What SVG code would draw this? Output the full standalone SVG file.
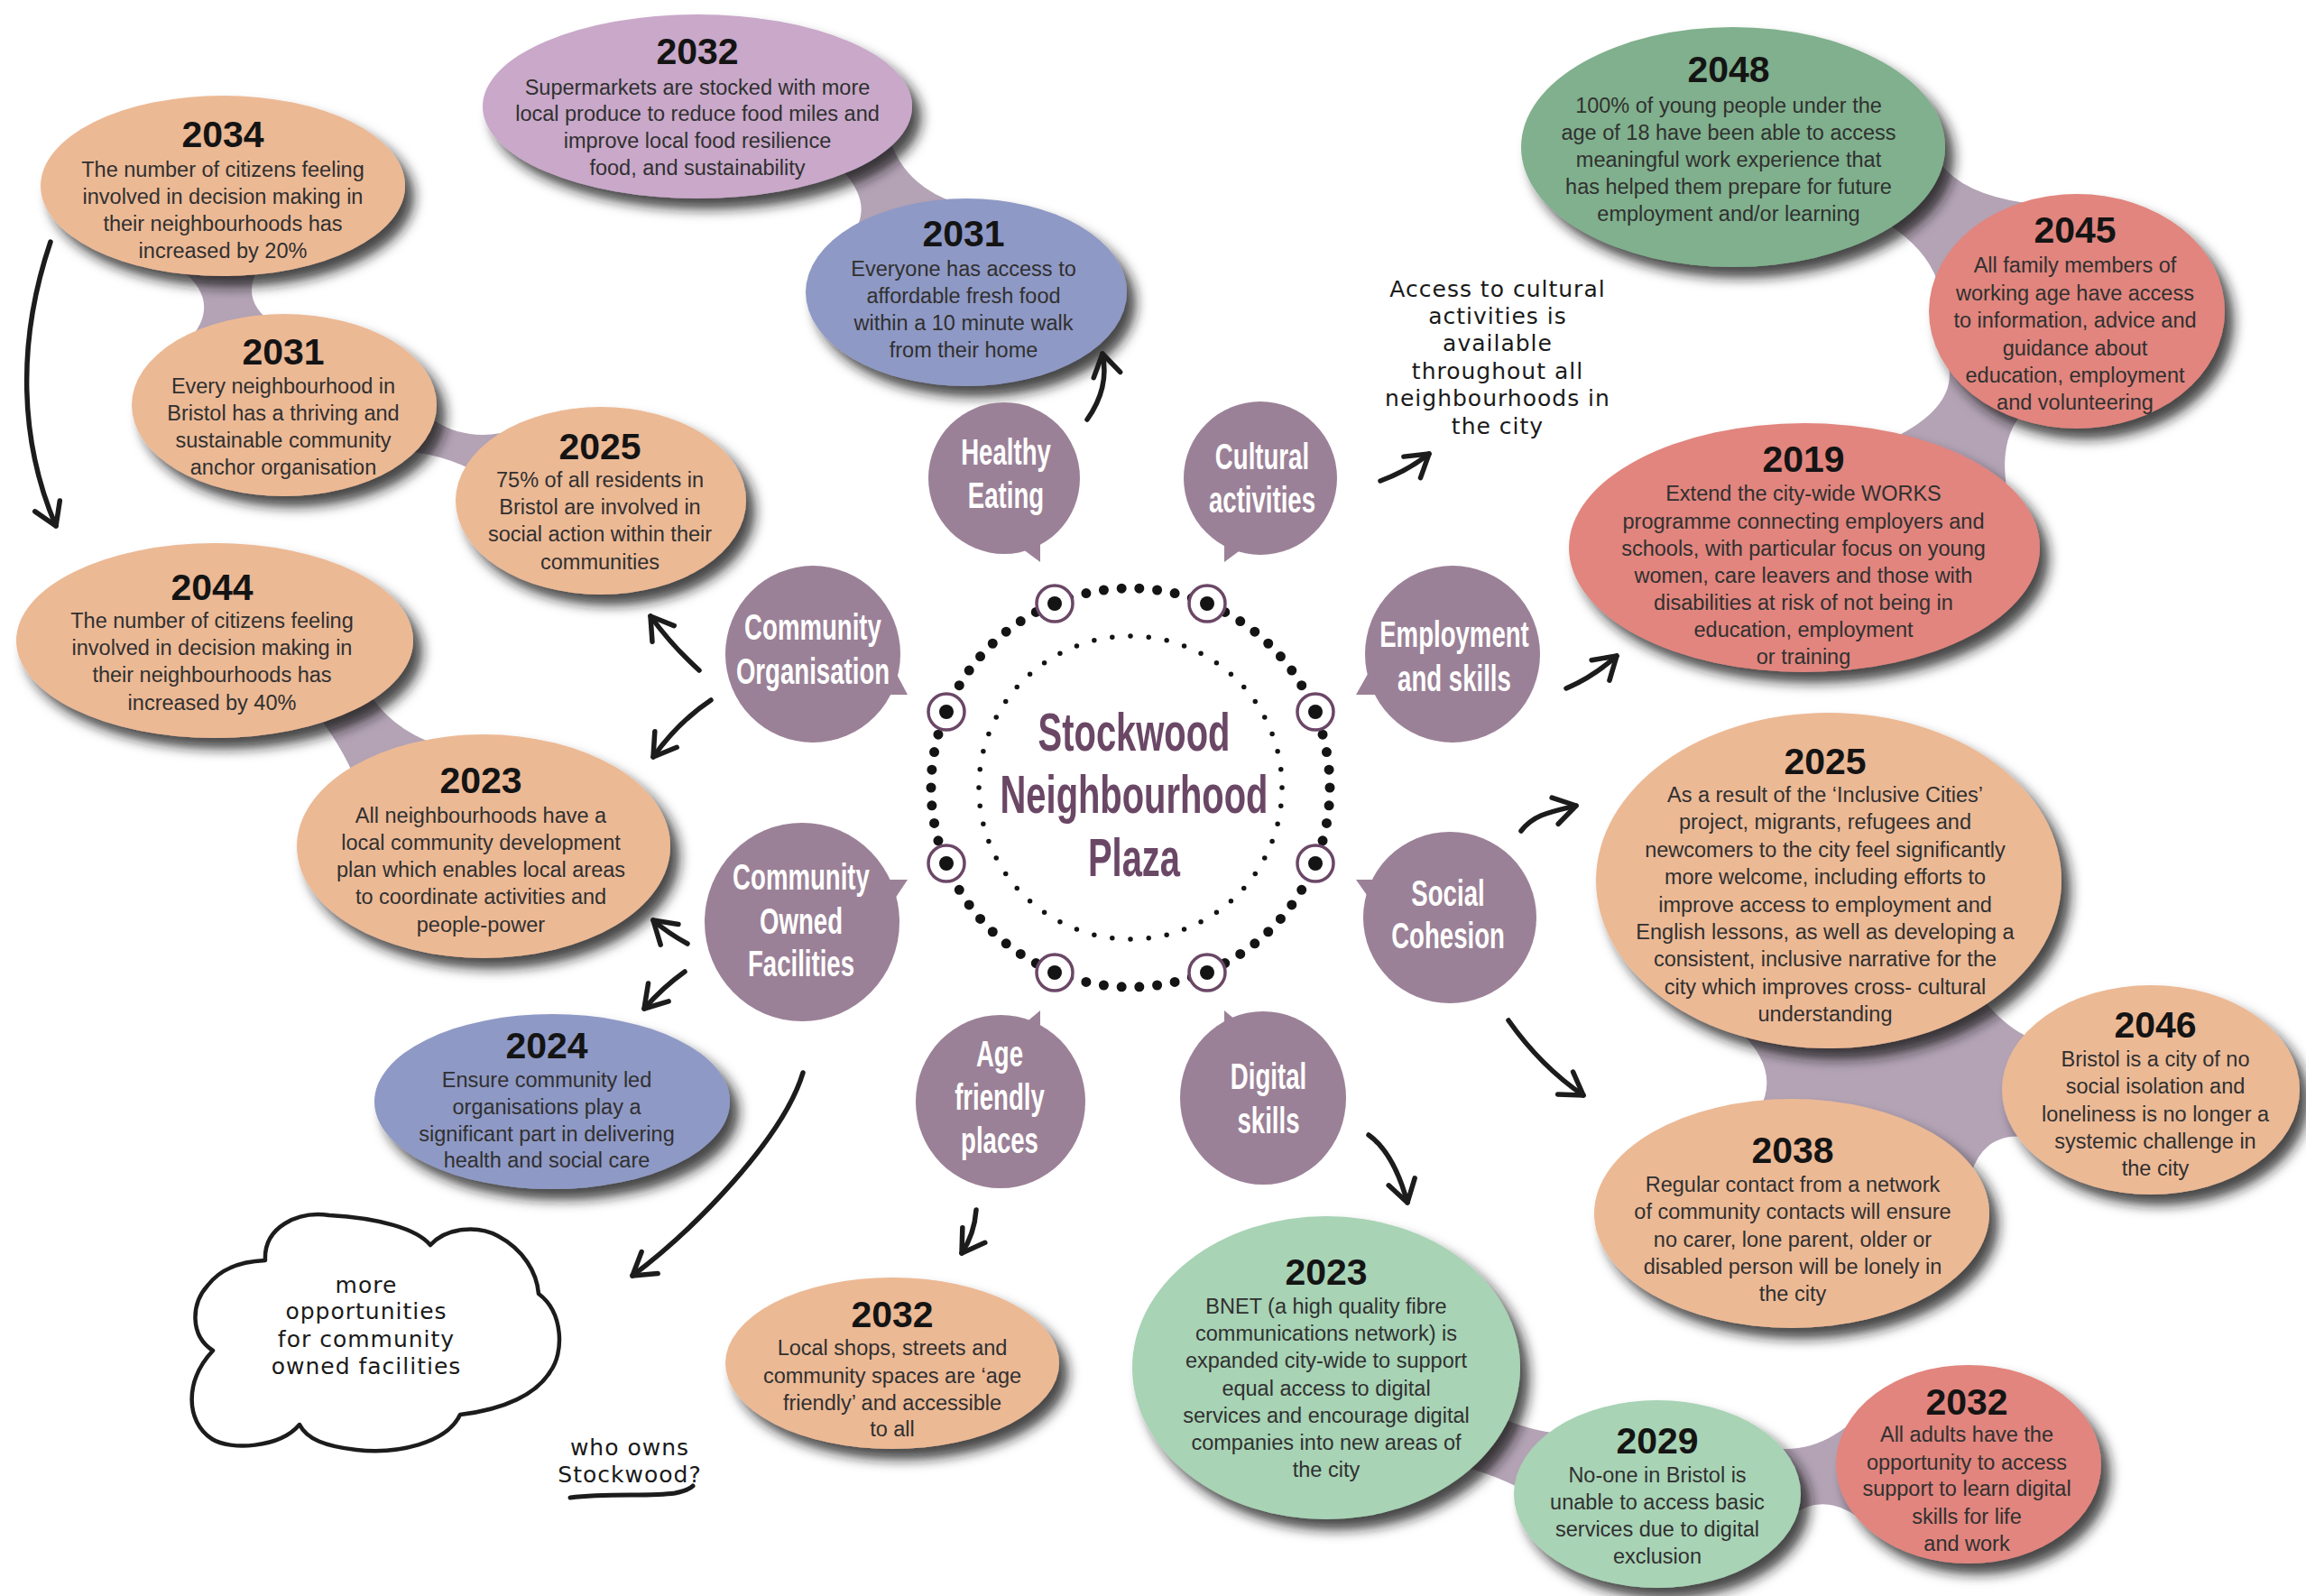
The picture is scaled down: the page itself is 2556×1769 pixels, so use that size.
<svg xmlns="http://www.w3.org/2000/svg" width="2556" height="1769" viewBox="0 0 2556 1769">
  <defs>
    <style>
      .yr{font-family:"Liberation Sans",Arial,sans-serif;font-weight:bold;font-size:41px;fill:#141414;text-anchor:middle}
      .bd{font-family:"Liberation Sans",Arial,sans-serif;font-size:23.5px;fill:#303030;text-anchor:middle}
      .cat{font-family:"Liberation Sans",Arial,sans-serif;font-weight:bold;font-size:40px;fill:#ffffff;text-anchor:middle}
      .hubt{font-family:"Liberation Sans",Arial,sans-serif;font-weight:bold;font-size:60px;fill:#6b4766;text-anchor:middle}
      .hand{font-family:"DejaVu Sans",sans-serif;font-size:25px;fill:#1a1a1a;text-anchor:middle;letter-spacing:1px}
      .arrow{fill:none;stroke:#1c1c1c;stroke-width:5.5;stroke-linecap:round;stroke-linejoin:round;marker-end:url(#head)}
      .stroke{fill:none;stroke:#1c1c1c;stroke-width:5;stroke-linecap:round}
      .cloud{fill:#ffffff;stroke:#1c1c1c;stroke-width:4.5;stroke-linejoin:round}
      .bridge{fill:#b3a3b5}
      .goal{filter:url(#shadow)}
      .peach{fill:#ecb995}
      .lilac{fill:#c9a8c9}
      .blue{fill:#8f99c5}
      .green{fill:#80b08d}
      .red{fill:#e1857e}
      .mint{fill:#a8d3b5}
      .bubble{fill:#9b8197}
      .ring{fill:none;stroke:#141414;stroke-linecap:round}
      .mark{fill:#ffffff;stroke:#6b4766;stroke-width:3.5}
      .dot{fill:#141414}
    </style>
    <filter id="shadow" x="-20%" y="-20%" width="150%" height="150%">
      <feDropShadow dx="10" dy="12" stdDeviation="7" flood-color="#141414" flood-opacity="0.8"/>
    </filter>
    <marker id="head" viewBox="-30 -20 36 40" refX="0" refY="0" markerWidth="36" markerHeight="40" markerUnits="userSpaceOnUse" orient="auto" overflow="visible">
      <path d="M-24,-15 L0,0 L-24,15" fill="none" stroke="#1c1c1c" stroke-width="5.5" stroke-linecap="round" stroke-linejoin="round"/>
    </marker>
  </defs>

  <rect width="2556" height="1769" fill="#ffffff"/>

  <!-- connectors: necks between linked goals, and hand-drawn arrows -->
  <g id="connectors">
    <g id="necks">
      <path class="bridge" d="M200,298 Q248,336 208,378 L305,360 Q262,332 290,292 Z"/>
      <path class="bridge" d="M470,458 Q515,495 575,475 L540,530 Q500,505 450,500 Z"/>
      <path class="bridge" d="M410,770 Q440,815 500,830 L400,880 Q385,835 350,790 Z"/>
      <path class="bridge" d="M930,185 Q970,225 945,260 L1060,225 Q1000,205 985,150 Z"/>
      <path class="bridge" d="M2150,180 Q2175,215 2245,225 L2150,320 Q2140,280 2095,250 Z"/>
      <path class="bridge" d="M2155,390 Q2180,445 2100,485 L2225,545 Q2215,490 2240,460 Z"/>
      <path class="bridge" d="M1925,1140 Q1975,1185 1950,1230 L2185,1300 Q2200,1255 2245,1260 L2250,1150 Q2225,1140 2200,1110 Z"/>
      <path class="bridge" d="M1660,1570 Q1700,1588 1740,1590 L1710,1665 Q1675,1640 1620,1625 Z"/>
      <path class="bridge" d="M1965,1605 Q2015,1612 2060,1570 L2070,1690 Q2025,1650 1985,1680 Z"/>
    </g>
  </g>

  <!-- goal ellipses -->
  <g id="n2034">
    <ellipse class="goal peach" cx="247" cy="206" rx="202" ry="100"/>
    <text class="yr" x="247" y="163">2034</text>
    <text class="bd"><tspan x="247" y="196">The number of citizens feeling</tspan><tspan x="247" y="226">involved in decision making in</tspan><tspan x="247" y="256">their neighbourhoods has</tspan><tspan x="247" y="286">increased by 20%</tspan></text>
  </g>
  <g id="n2031-anchor">
    <ellipse class="goal peach" cx="315" cy="449" rx="169" ry="101"/>
    <text class="yr" x="314" y="404">2031</text>
    <text class="bd"><tspan x="314" y="436">Every neighbourhood in</tspan><tspan x="314" y="466">Bristol has a thriving and</tspan><tspan x="314" y="496">sustainable community</tspan><tspan x="314" y="526">anchor organisation</tspan></text>
  </g>
  <g id="n2025-action">
    <ellipse class="goal peach" cx="666" cy="555" rx="161" ry="104"/>
    <text class="yr" x="665" y="509">2025</text>
    <text class="bd"><tspan x="665" y="540">75% of all residents in</tspan><tspan x="665" y="570">Bristol are involved in</tspan><tspan x="665" y="600">social action within their</tspan><tspan x="665" y="631">communities</tspan></text>
  </g>
  <g id="n2044">
    <ellipse class="goal peach" cx="238" cy="710" rx="220" ry="108"/>
    <text class="yr" x="235" y="665">2044</text>
    <text class="bd"><tspan x="235" y="696">The number of citizens feeling</tspan><tspan x="235" y="726">involved in decision making in</tspan><tspan x="235" y="756">their neighbourhoods has</tspan><tspan x="235" y="787">increased by 40%</tspan></text>
  </g>
  <g id="n2023-plan">
    <ellipse class="goal peach" cx="536" cy="938" rx="207" ry="124"/>
    <text class="yr" x="533" y="879">2023</text>
    <text class="bd"><tspan x="533" y="912">All neighbourhoods have a</tspan><tspan x="533" y="942">local community development</tspan><tspan x="533" y="972">plan which enables local areas</tspan><tspan x="533" y="1002">to coordinate activities and</tspan><tspan x="533" y="1033">people-power</tspan></text>
  </g>
  <g id="n2024">
    <ellipse class="goal blue" cx="612" cy="1221" rx="197" ry="97"/>
    <text class="yr" x="606" y="1173">2024</text>
    <text class="bd"><tspan x="606" y="1205">Ensure community led</tspan><tspan x="606" y="1235">organisations play a</tspan><tspan x="606" y="1265">significant part in delivering</tspan><tspan x="606" y="1294">health and social care</tspan></text>
  </g>
  <g id="n2032-food">
    <ellipse class="goal lilac" cx="773" cy="118" rx="238" ry="102"/>
    <text class="yr" x="773" y="71">2032</text>
    <text class="bd"><tspan x="773" y="105">Supermarkets are stocked with more</tspan><tspan x="773" y="134">local produce to reduce food miles and</tspan><tspan x="773" y="164">improve local food resilience</tspan><tspan x="773" y="194">food, and sustainability</tspan></text>
  </g>
  <g id="n2031-food">
    <ellipse class="goal blue" cx="1071" cy="324" rx="178" ry="104"/>
    <text class="yr" x="1068" y="273">2031</text>
    <text class="bd"><tspan x="1068" y="306">Everyone has access to</tspan><tspan x="1068" y="336">affordable fresh food</tspan><tspan x="1068" y="366">within a 10 minute walk</tspan><tspan x="1068" y="396">from their home</tspan></text>
  </g>
  <g id="n2048">
    <ellipse class="goal green" cx="1921" cy="163" rx="235" ry="133"/>
    <text class="yr" x="1916" y="91">2048</text>
    <text class="bd"><tspan x="1916" y="125">100% of young people under the</tspan><tspan x="1916" y="155">age of 18 have been able to access</tspan><tspan x="1916" y="185">meaningful work experience that</tspan><tspan x="1916" y="215">has helped them prepare for future</tspan><tspan x="1916" y="245">employment and/or learning</tspan></text>
  </g>
  <g id="n2045">
    <ellipse class="goal red" cx="2302" cy="345" rx="164" ry="130"/>
    <text class="yr" x="2300" y="269">2045</text>
    <text class="bd"><tspan x="2300" y="302">All family members of</tspan><tspan x="2300" y="333">working age have access</tspan><tspan x="2300" y="363">to information, advice and</tspan><tspan x="2300" y="394">guidance about</tspan><tspan x="2300" y="424">education, employment</tspan><tspan x="2300" y="454">and volunteering</tspan></text>
  </g>
  <g id="n2019">
    <ellipse class="goal red" cx="2000" cy="607" rx="261" ry="138"/>
    <text class="yr" x="1999" y="523">2019</text>
    <text class="bd"><tspan x="1999" y="555">Extend the city-wide WORKS</tspan><tspan x="1999" y="586">programme connecting employers and</tspan><tspan x="1999" y="616">schools, with particular focus on young</tspan><tspan x="1999" y="646">women, care leavers and those with</tspan><tspan x="1999" y="676">disabilities at risk of not being in</tspan><tspan x="1999" y="706">education, employment</tspan><tspan x="1999" y="736">or training</tspan></text>
  </g>
  <g id="n2025-inclusive">
    <ellipse class="goal peach" cx="2027" cy="976" rx="258" ry="186"/>
    <text class="yr" x="2023" y="858">2025</text>
    <text class="bd"><tspan x="2023" y="889">As a result of the ‘Inclusive Cities’</tspan><tspan x="2023" y="919">project, migrants, refugees and</tspan><tspan x="2023" y="950">newcomers to the city feel significantly</tspan><tspan x="2023" y="980">more welcome, including efforts to</tspan><tspan x="2023" y="1011">improve access to employment and</tspan><tspan x="2023" y="1041">English lessons, as well as developing a</tspan><tspan x="2023" y="1071">consistent, inclusive narrative for the</tspan><tspan x="2023" y="1102">city which improves cross- cultural</tspan><tspan x="2023" y="1132">understanding</tspan></text>
  </g>
  <g id="n2046">
    <ellipse class="goal peach" cx="2384" cy="1208" rx="165" ry="116"/>
    <text class="yr" x="2389" y="1150">2046</text>
    <text class="bd"><tspan x="2389" y="1182">Bristol is a city of no</tspan><tspan x="2389" y="1212">social isolation and</tspan><tspan x="2389" y="1243">loneliness is no longer a</tspan><tspan x="2389" y="1273">systemic challenge in</tspan><tspan x="2389" y="1303">the city</tspan></text>
  </g>
  <g id="n2038">
    <ellipse class="goal peach" cx="1986" cy="1345" rx="219" ry="127"/>
    <text class="yr" x="1987" y="1289">2038</text>
    <text class="bd"><tspan x="1987" y="1321">Regular contact from a network</tspan><tspan x="1987" y="1351">of community contacts will ensure</tspan><tspan x="1987" y="1382">no carer, lone parent, older or</tspan><tspan x="1987" y="1412">disabled person will be lonely in</tspan><tspan x="1987" y="1442">the city</tspan></text>
  </g>
  <g id="n2023-bnet">
    <ellipse class="goal mint" cx="1470" cy="1516" rx="215" ry="168"/>
    <text class="yr" x="1470" y="1424">2023</text>
    <text class="bd"><tspan x="1470" y="1456">BNET (a high quality fibre</tspan><tspan x="1470" y="1486">communications network) is</tspan><tspan x="1470" y="1516">expanded city-wide to support</tspan><tspan x="1470" y="1547">equal access to digital</tspan><tspan x="1470" y="1577">services and encourage digital</tspan><tspan x="1470" y="1607">companies into new areas of</tspan><tspan x="1470" y="1637">the city</tspan></text>
  </g>
  <g id="n2029">
    <ellipse class="goal mint" cx="1837" cy="1656" rx="159" ry="104"/>
    <text class="yr" x="1837" y="1611">2029</text>
    <text class="bd"><tspan x="1837" y="1643">No-one in Bristol is</tspan><tspan x="1837" y="1673">unable to access basic</tspan><tspan x="1837" y="1703">services due to digital</tspan><tspan x="1837" y="1733">exclusion</tspan></text>
  </g>
  <g id="n2032-skills">
    <ellipse class="goal red" cx="2182" cy="1623" rx="147" ry="110"/>
    <text class="yr" x="2180" y="1568">2032</text>
    <text class="bd"><tspan x="2180" y="1598">All adults have the</tspan><tspan x="2180" y="1629">opportunity to access</tspan><tspan x="2180" y="1658">support to learn digital</tspan><tspan x="2180" y="1689">skills for life</tspan><tspan x="2180" y="1719">and work</tspan></text>
  </g>
  <g id="n2032-places">
    <ellipse class="goal peach" cx="989" cy="1511" rx="185" ry="95"/>
    <text class="yr" x="989" y="1471">2032</text>
    <text class="bd"><tspan x="989" y="1502">Local shops, streets and</tspan><tspan x="989" y="1533">community spaces are ‘age</tspan><tspan x="989" y="1563">friendly’ and accessible</tspan><tspan x="989" y="1592">to all</tspan></text>
  </g>

  <!-- central plaza: two dotted rings with eight ring markers -->
  <g id="hub">
    <circle class="ring" cx="1253" cy="873" r="221" stroke-width="11" pathLength="70" stroke-dasharray="0 1"/>
    <circle class="ring" cx="1253" cy="873" r="168" stroke-width="5.5" pathLength="52" stroke-dasharray="0 1"/>
    <g id="ring-markers">
      <circle class="mark" cx="1169" cy="669" r="20"/><circle class="dot" cx="1169" cy="669" r="8"/>
      <circle class="mark" cx="1338" cy="669" r="20"/><circle class="dot" cx="1338" cy="669" r="8"/>
      <circle class="mark" cx="1049" cy="789" r="20"/><circle class="dot" cx="1049" cy="789" r="8"/>
      <circle class="mark" cx="1458" cy="789" r="20"/><circle class="dot" cx="1458" cy="789" r="8"/>
      <circle class="mark" cx="1049" cy="957" r="20"/><circle class="dot" cx="1049" cy="957" r="8"/>
      <circle class="mark" cx="1458" cy="957" r="20"/><circle class="dot" cx="1458" cy="957" r="8"/>
      <circle class="mark" cx="1169" cy="1078" r="20"/><circle class="dot" cx="1169" cy="1078" r="8"/>
      <circle class="mark" cx="1338" cy="1078" r="20"/><circle class="dot" cx="1338" cy="1078" r="8"/>
    </g>
    <text class="hubt" transform="translate(1257 0) scale(0.665 1)"><tspan x="0" y="832">Stockwood</tspan><tspan x="0" y="901">Neighbourhood</tspan><tspan x="0" y="971">Plaza</tspan></text>
  </g>

  <!-- theme bubbles with tails toward the plaza -->
  <g id="healthy-eating">
    <ellipse class="bubble" cx="1113" cy="530" rx="84" ry="84"/>
    <path class="bubble" d="M1153,590 L1153,623 L1122,600 Z"/>
    <text class="cat" transform="translate(1115 0) scale(0.69 1)"><tspan x="0" y="515">Healthy</tspan><tspan x="0" y="563">Eating</tspan></text>
  </g>
  <g id="cultural-activities">
    <ellipse class="bubble" cx="1397" cy="530" rx="85" ry="85"/>
    <path class="bubble" d="M1357,590 L1357,623 L1388,600 Z"/>
    <text class="cat" transform="translate(1399 0) scale(0.69 1)"><tspan x="0" y="520">Cultural</tspan><tspan x="0" y="568">activities</tspan></text>
  </g>
  <g id="community-organisation">
    <ellipse class="bubble" cx="901" cy="725" rx="97" ry="98"/>
    <path class="bubble" d="M990,740 L1006,770 L975,770 Z"/>
    <text class="cat" transform="translate(901 0) scale(0.69 1)"><tspan x="0" y="709">Community</tspan><tspan x="0" y="758">Organisation</tspan></text>
  </g>
  <g id="employment-skills">
    <ellipse class="bubble" cx="1610" cy="725" rx="97" ry="98"/>
    <path class="bubble" d="M1520,740 L1503,770 L1535,770 Z"/>
    <text class="cat" transform="translate(1612 0) scale(0.69 1)"><tspan x="0" y="717">Employment</tspan><tspan x="0" y="766">and skills</tspan></text>
  </g>
  <g id="community-owned-facilities">
    <ellipse class="bubble" cx="889" cy="1022" rx="108" ry="110"/>
    <path class="bubble" d="M1006,975 L975,975 L988,1002 Z"/>
    <text class="cat" transform="translate(888 0) scale(0.69 1)"><tspan x="0" y="986">Community</tspan><tspan x="0" y="1035">Owned</tspan><tspan x="0" y="1082">Facilities</tspan></text>
  </g>
  <g id="social-cohesion">
    <ellipse class="bubble" cx="1607" cy="1017" rx="96" ry="95"/>
    <path class="bubble" d="M1503,975 L1535,975 L1522,1002 Z"/>
    <text class="cat" transform="translate(1605 0) scale(0.69 1)"><tspan x="0" y="1004">Social</tspan><tspan x="0" y="1051">Cohesion</tspan></text>
  </g>
  <g id="age-friendly-places">
    <ellipse class="bubble" cx="1109" cy="1221" rx="94" ry="96"/>
    <path class="bubble" d="M1153,1120 L1153,1152 L1122,1146 Z"/>
    <text class="cat" transform="translate(1108 0) scale(0.69 1)"><tspan x="0" y="1182">Age</tspan><tspan x="0" y="1230">friendly</tspan><tspan x="0" y="1278">places</tspan></text>
  </g>
  <g id="digital-skills">
    <ellipse class="bubble" cx="1400" cy="1217" rx="92" ry="96"/>
    <path class="bubble" d="M1357,1120 L1357,1152 L1388,1146 Z"/>
    <text class="cat" transform="translate(1406 0) scale(0.69 1)"><tspan x="0" y="1207">Digital</tspan><tspan x="0" y="1256">skills</tspan></text>
  </g>

  <!-- hand-drawn arrows -->
  <g id="arrows">
    <path class="arrow" d="M56,268 C18,380 22,490 62,583"/>
    <path class="arrow" d="M1205,465 Q1230,430 1222,392"/>
    <path class="arrow" d="M1530,533 Q1560,522 1584,503"/>
    <path class="arrow" d="M1736,763 Q1766,750 1792,727"/>
    <path class="arrow" d="M1686,921 C1700,903 1718,900 1747,893"/>
    <path class="arrow" d="M1672,1131 Q1708,1182 1755,1214"/>
    <path class="arrow" d="M1517,1258 Q1545,1278 1560,1333"/>
    <path class="arrow" d="M1082,1341 Q1080,1368 1066,1389"/>
    <path class="arrow" d="M759,1077 Q735,1094 714,1118"/>
    <path class="arrow" d="M762,1046 Q740,1034 724,1020"/>
    <path class="arrow" d="M788,776 Q752,800 724,839"/>
    <path class="arrow" d="M775,743 Q745,716 721,683"/>
    <path class="arrow" d="M890,1189 C868,1262 770,1362 701,1414"/>
  </g>

  <!-- handwritten notes -->
  <g id="note-cultural">
    <text class="hand"><tspan x="1660" y="329">Access to cultural</tspan><tspan x="1660" y="359">activities is</tspan><tspan x="1660" y="389">available</tspan><tspan x="1660" y="420">throughout all</tspan><tspan x="1660" y="450">neighbourhoods in</tspan><tspan x="1660" y="481">the city</tspan></text>
  </g>
  <g id="note-cloud">
    <path class="cloud" d="M294,1397 C292,1360 330,1342 365,1347 C420,1350 462,1362 477,1380 C495,1360 530,1358 552,1370 C580,1385 595,1410 597,1434 C625,1455 625,1500 610,1520 C595,1545 560,1562 510,1568 C495,1600 440,1612 395,1607 C360,1603 340,1595 332,1579 C310,1605 255,1608 235,1595 C205,1575 205,1530 236,1497 C210,1480 212,1445 230,1425 C245,1405 270,1398 294,1397 Z"/>
    <text class="hand" font-size="27"><tspan x="406" y="1433">more</tspan><tspan x="406" y="1462">opportunities</tspan><tspan x="406" y="1493">for community</tspan><tspan x="406" y="1523">owned facilities</tspan></text>
  </g>
  <g id="note-owner">
    <text class="hand"><tspan x="698" y="1613">who owns</tspan><tspan x="698" y="1643">Stockwood?</tspan></text>
    <path class="stroke" d="M632,1660 C675,1655 720,1659 748,1655 C758,1653 764,1651 768,1647"/>
  </g>
</svg>
